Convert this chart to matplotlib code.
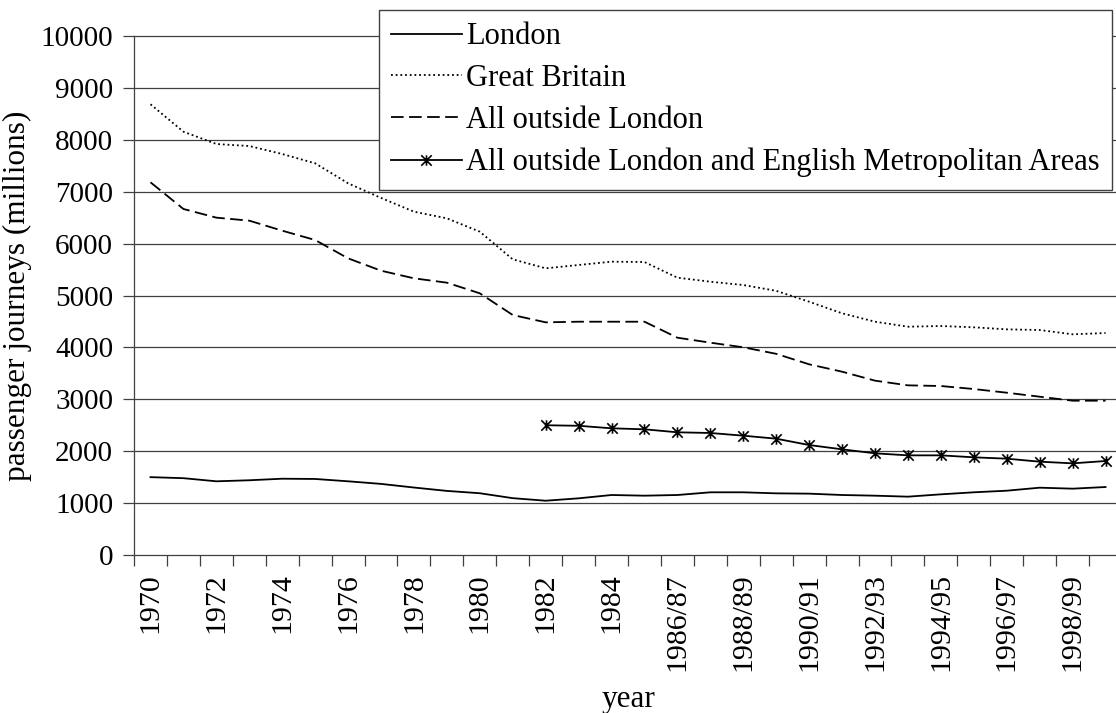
import numpy as np
import matplotlib
matplotlib.use('Agg')
import matplotlib.pyplot as plt
from matplotlib.path import Path

plt.rcParams['font.family'] = ['Liberation Serif', 'DejaVu Serif']

years = ['1970', '1971', '1972', '1973', '1974', '1975', '1976', '1977',
         '1978', '1979', '1980', '1981', '1982', '1983', '1984', '1985/86',
         '1986/87', '1987/88', '1988/89', '1989/90', '1990/91', '1991/92',
         '1992/93', '1993/94', '1994/95', '1995/96', '1996/97', '1997/98',
         '1998/99', '1999/00']

london = [1500, 1480, 1420, 1440, 1470, 1465, 1420, 1370, 1300, 1235,
          1190, 1095, 1046, 1092, 1156, 1143, 1156, 1208, 1208, 1188,
          1182, 1156, 1143, 1124, 1169, 1208, 1239, 1297, 1278, 1310]

great_britain = [8684, 8156, 7919, 7880, 7726, 7547, 7162, 6880, 6615, 6487,
                 6229, 5697, 5524, 5588, 5652, 5645, 5343, 5266, 5202, 5090,
                 4880, 4657, 4495, 4399, 4412, 4387, 4348, 4335, 4252, 4277]

outside_london = [7181, 6667, 6500, 6442, 6249, 6069, 5716, 5478, 5331, 5247,
                  5042, 4624, 4483, 4495, 4495, 4495, 4187, 4091, 4002, 3876,
                  3674, 3532, 3359, 3269, 3256, 3198, 3127, 3050, 2973, 2973]

# no figures before 1982
outside_metro = [None] * 12 + [2500, 2490, 2441, 2422, 2364, 2351, 2299,
                               2241, 2119, 2036, 1959, 1920, 1920, 1882,
                               1856, 1798, 1766, 1811]

# excel style star: x with a vertical bar
star = Path([(0, -1), (0, 1), (-1, -1), (1, 1), (-1, 1), (1, -1)],
            [Path.MOVETO, Path.LINETO] * 3)

x = np.arange(len(years))
metro = np.array([np.nan if v is None else v for v in outside_metro], float)

fig = plt.figure(figsize=(11.16, 7.13), dpi=100)
ax = fig.add_axes([0.1201, 0.2216, 0.8853, 0.7279])

grey = '#404040'
for v in range(1000, 10001, 1000):
    ax.axhline(v, color=grey, lw=0.9, zorder=1, clip_on=False)

ax.plot(x, london, color='black', lw=1.3, label='London', zorder=3)
ax.plot(x, great_britain, color='black', lw=1.3, linestyle=(0, (1, 1.6)),
        label='Great Britain', zorder=3)
ax.plot(x, outside_london, color='black', lw=1.3, linestyle=(0, (7, 3)),
        label='All outside London', zorder=3)
ax.plot(x, metro, color='black', lw=1.3, marker=star, markersize=7.5,
        markeredgewidth=1.2, markerfacecolor='none',
        label='All outside London and English Metropolitan Areas', zorder=3)

ax.set_xlim(-0.5, len(years) - 0.5)
ax.set_ylim(0, 10000)
ax.set_yticks(range(0, 10001, 1000))
ax.tick_params(axis='y', direction='out', length=8, width=0.9, color=grey,
               labelsize=21, pad=7)

ax.set_xticks(np.arange(-0.5, len(years)))
ax.set_xticklabels([])
ax.set_xticks(x[::2], minor=True)
ax.set_xticklabels(years[::2], minor=True, rotation=90, va='top', ha='center')
ax.tick_params(axis='x', which='major', direction='out', length=8, width=0.9,
               color=grey)
ax.tick_params(axis='x', which='minor', length=0, labelsize=21.5, pad=13)

for side in ['top', 'right']:
    ax.spines[side].set_visible(False)
for side in ['left', 'bottom']:
    ax.spines[side].set_color(grey)
    ax.spines[side].set_linewidth(0.9)

ax.set_ylabel('passenger journeys (millions)', fontsize=22.5, labelpad=6)
ax.set_xlabel('year', fontsize=22.5, labelpad=10)

leg = ax.legend(loc='upper left', bbox_to_anchor=(0.248, 0.5, 0.742, 0.55),
                mode='expand', borderaxespad=0, fontsize=22,
                handlelength=2.3, handletextpad=0.16, labelspacing=0.42,
                borderpad=0.4, fancybox=False, framealpha=1, numpoints=1)
leg.get_frame().set_edgecolor(grey)
leg.get_frame().set_linewidth(1.0)

fig.savefig('out.png', dpi=100)
